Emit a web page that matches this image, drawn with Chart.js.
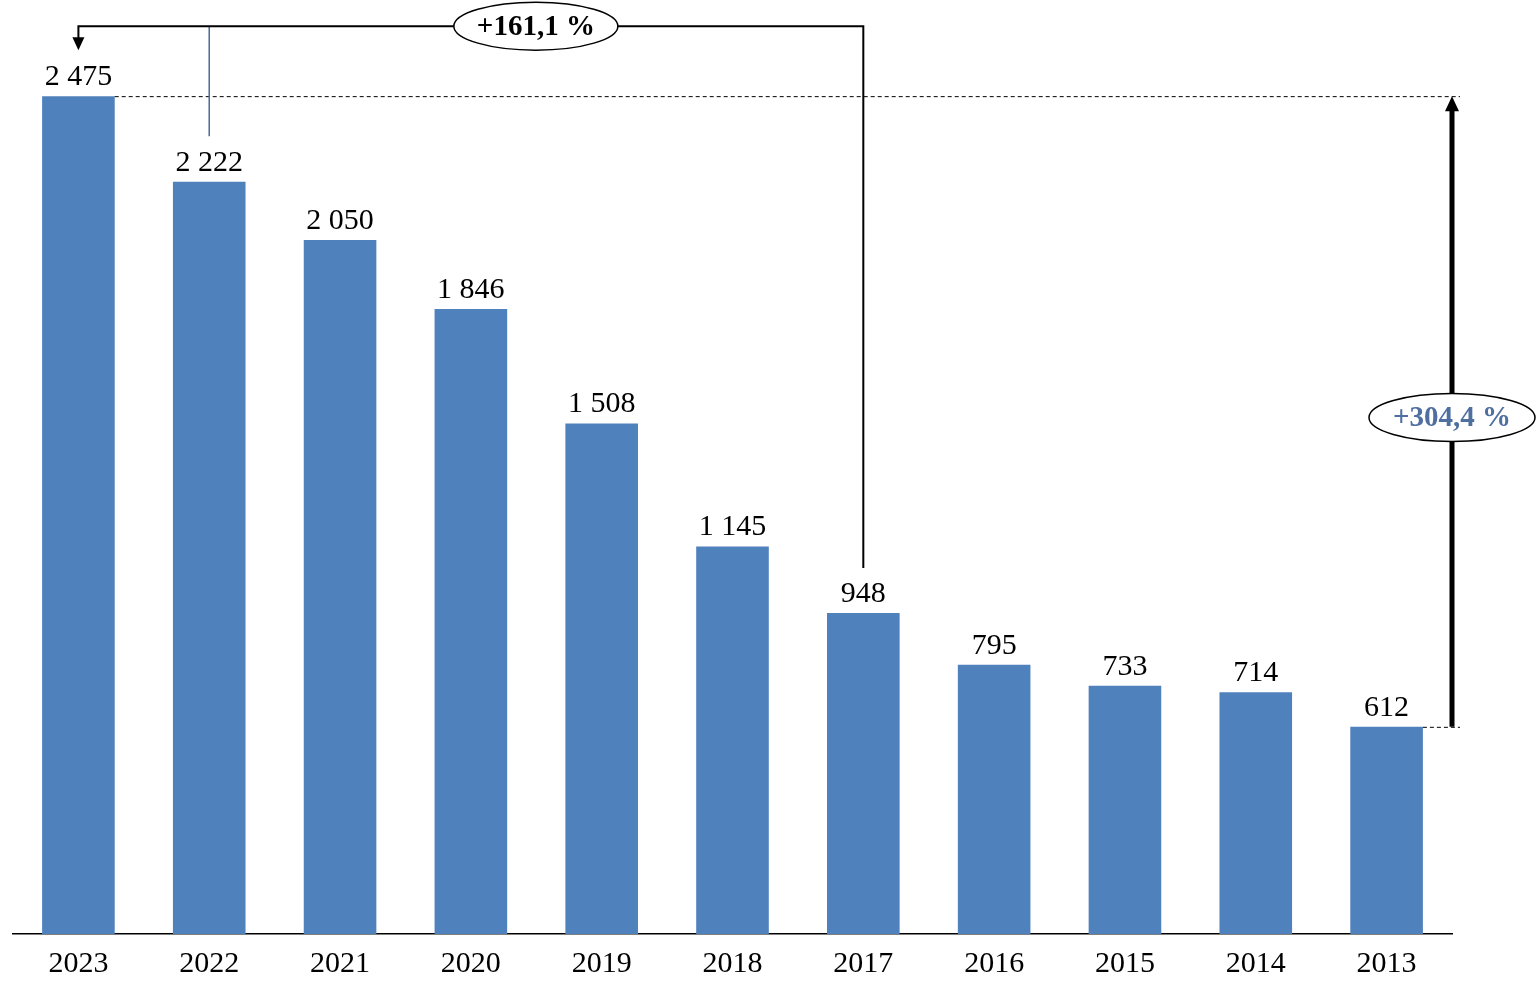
<!DOCTYPE html>
<html>
<head>
<meta charset="utf-8">
<script src="https://cdn.jsdelivr.net/npm/chart.js@4"></script>
<style>
  html, body { margin: 0; padding: 0; background: #fff; }
  #wrap { width: 1536px; height: 997px; }
</style>
</head>
<body>
<div id="wrap"><canvas id="barChart" width="1536" height="997"></canvas></div>
<script>
var years  = ['2023','2022','2021','2020','2019','2018','2017','2016','2015','2014','2013'];
var values = [2475, 2222, 2050, 1846, 1508, 1145, 948, 795, 733, 714, 612];
var growthShort = '+161,1 %';   // 2017 -> 2023
var growthLong  = '+304,4 %';   // 2013 -> 2023

var FONT = '"Liberation Serif", "Times New Roman", serif';
var barColor = '#4F81BD';

function fmt(n){
  return String(n).replace(/\B(?=(\d{3})+(?!\d))/g, ' ');
}

function ellipseLabel(ctx, cx, cy, rx, ry, text, color){
  ctx.save();
  ctx.beginPath();
  ctx.ellipse(cx, cy, rx, ry, 0, 0, Math.PI*2);
  ctx.fillStyle = '#fff';
  ctx.fill();
  ctx.lineWidth = 1.5;
  ctx.strokeStyle = '#000';
  ctx.stroke();
  ctx.fillStyle = color;
  ctx.font = 'bold 29px ' + FONT;
  ctx.textAlign = 'center';
  ctx.textBaseline = 'middle';
  ctx.fillText(text, cx, cy + 1);
  ctx.restore();
}

var extras = {
  id: 'extras',
  afterDatasetsDraw: function(chart){
    var ctx = chart.ctx;
    var xs = chart.scales.x, ys = chart.scales.y;
    var bars = chart.getDatasetMeta(0).data;
    var area = chart.chartArea;

    // value labels
    ctx.save();
    ctx.fillStyle = '#000';
    ctx.font = '30px ' + FONT;
    ctx.textAlign = 'center';
    ctx.textBaseline = 'alphabetic';
    bars.forEach(function(b, i){
      ctx.fillText(fmt(values[i]), b.x, b.y - 11);
    });
    ctx.restore();

    var iFirst = 0, iLast = values.length - 1, iMid = years.indexOf('2017'), i22 = years.indexOf('2022');
    var yTop = ys.getPixelForValue(values[iFirst]);
    var yLow = ys.getPixelForValue(values[iLast]);
    var yMid = ys.getPixelForValue(values[iMid]);
    var xFirst = xs.getPixelForValue(iFirst);
    var xMid = xs.getPixelForValue(iMid);
    var x22 = xs.getPixelForValue(i22);
    var xArrow = area.right;
    var bracketY = yTop - 70;

    // dashed reference lines
    ctx.save();
    ctx.setLineDash([4, 3]);
    ctx.lineWidth = 1;
    ctx.strokeStyle = '#000';
    ctx.beginPath();
    ctx.moveTo(bars[iFirst].x + bars[iFirst].width/2, yTop + 0.5);
    ctx.lineTo(xArrow + 8, yTop + 0.5);
    ctx.moveTo(bars[iLast].x + bars[iLast].width/2, yLow + 0.5);
    ctx.lineTo(xArrow + 8, yLow + 0.5);
    ctx.stroke();
    ctx.restore();

    // 2022 leader line
    ctx.save();
    ctx.strokeStyle = '#4A6A9A';
    ctx.lineWidth = 1.5;
    ctx.beginPath();
    ctx.moveTo(x22, bracketY);
    ctx.lineTo(x22, yTop + 40);
    ctx.stroke();
    ctx.restore();

    // bracket from 2017 to 2023
    ctx.save();
    ctx.strokeStyle = '#000';
    ctx.fillStyle = '#000';
    ctx.lineWidth = 2;
    ctx.beginPath();
    ctx.moveTo(xMid, yMid - 45);
    ctx.lineTo(xMid, bracketY);
    ctx.lineTo(xFirst, bracketY);
    ctx.lineTo(xFirst, bracketY + 12);
    ctx.stroke();
    ctx.beginPath();
    ctx.moveTo(xFirst - 6, bracketY + 11);
    ctx.lineTo(xFirst + 6, bracketY + 11);
    ctx.lineTo(xFirst, bracketY + 24);
    ctx.closePath();
    ctx.fill();
    ctx.restore();
    ellipseLabel(ctx, (xFirst + xMid)/2 + 65, bracketY, 82, 24, growthShort, '#000');

    // big arrow 2013 -> 2023
    ctx.save();
    ctx.strokeStyle = '#000';
    ctx.fillStyle = '#000';
    ctx.lineWidth = 5;
    ctx.beginPath();
    ctx.moveTo(xArrow, yLow);
    ctx.lineTo(xArrow, yTop + 12);
    ctx.stroke();
    ctx.beginPath();
    ctx.moveTo(xArrow - 7, yTop + 15);
    ctx.lineTo(xArrow + 7, yTop + 15);
    ctx.lineTo(xArrow, yTop);
    ctx.closePath();
    ctx.fill();
    ctx.restore();
    ellipseLabel(ctx, xArrow, (yTop + yLow)/2 + 6, 83, 24, growthLong, '#4F6FA0');
  }
};

new Chart(document.getElementById('barChart').getContext('2d'), {
  type: 'bar',
  data: {
    labels: years,
    datasets: [{
      data: values,
      backgroundColor: barColor,
      borderWidth: 0,
      categoryPercentage: 1,
      barPercentage: 0.555
    }]
  },
  options: {
    responsive: false,
    animation: false,
    events: [],
    layout: { padding: { left: 13, right: 84, top: 0, bottom: 0 } },
    plugins: { legend: { display: false }, tooltip: { enabled: false } },
    scales: {
      x: {
        grid: { display: false, drawTicks: false },
        border: { display: true, color: '#000', width: 1.5 },
        ticks: { color: '#000', font: { family: FONT, size: 30 }, padding: 12, maxRotation: 0 },
        afterFit: function(s){ s.height = 63; }
      },
      y: {
        display: false,
        min: 0,
        max: 2759
      }
    }
  },
  plugins: [extras]
});
</script>
</body>
</html>
